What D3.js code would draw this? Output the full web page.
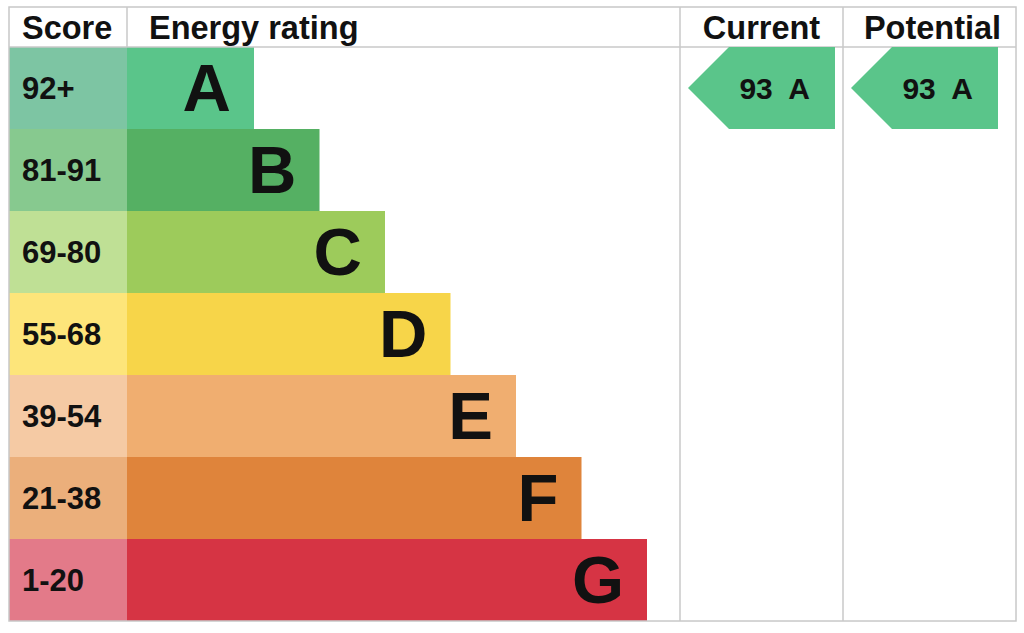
<!DOCTYPE html>
<html>
<head>
<meta charset="utf-8">
<script src="https://cdn.jsdelivr.net/npm/d3@7"></script>
<style>
  body { margin: 0; background: #fff; }
  text { font-family: "Liberation Sans", Arial, sans-serif; font-weight: bold; fill: #111; }
</style>
</head>
<body>
<script>
// band data
var bands = ["A", "B", "C", "D", "E", "F", "G"];
var ranges = ["92+", "81-91", "69-80", "55-68", "39-54", "21-38", "1-20"];
var barColors = ["#5ac58a", "#55b063", "#9dcb5b", "#f7d549", "#f0ae70", "#df843b", "#d63444"];
var cellColors = ["#7dc5a3", "#87c98f", "#bfe095", "#fde57a", "#f5caa4", "#ebaf7b", "#e37a89"];
var headers = ["Score", "Energy rating", "Current", "Potential"];
var ratings = [
    { col: "Current", score: 93, band: "A" },
    { col: "Potential", score: 93, band: "A" }
];

var width = 1024, height = 633;
var svg = d3.select("body").append("svg").attr("width", width).attr("height", height);

var gTop = 7, headBottom = 47, gBottom = 621, gLeft = 9, gRight = 1016;
var scoreEnd = 127, ratingEnd = 680, currentEnd = 843;
var arrowW = 147;

// rows
var y = d3.scaleBand().domain(bands).range([headBottom, gBottom]);
// bar end by band rank
var xEnd = d3.scaleLinear().domain([0, 6]).range([254, 647]);
var colX = { "Current": [ratingEnd, currentEnd], "Potential": [currentEnd, gRight] };

var rows = svg.selectAll("g.row").data(bands).enter().append("g").attr("class", "row");

rows.append("rect")
    .attr("x", gLeft).attr("y", function(d) { return y(d); })
    .attr("width", scoreEnd - gLeft).attr("height", y.bandwidth())
    .attr("fill", function(d, i) { return cellColors[i]; });

rows.append("rect")
    .attr("x", scoreEnd).attr("y", function(d) { return y(d); })
    .attr("width", function(d, i) { return xEnd(i) - scoreEnd; }).attr("height", y.bandwidth())
    .attr("fill", function(d, i) { return barColors[i]; });

rows.append("text")
    .attr("x", 22).attr("y", function(d) { return y(d) + y.bandwidth() / 2; })
    .attr("dy", "0.34em").attr("font-size", 31)
    .text(function(d, i) { return ranges[i]; });

rows.append("text")
    .attr("x", function(d, i) { return xEnd(i) - 23; })
    .attr("y", function(d) { return y(d) + y.bandwidth() / 2; })
    .attr("dy", "0.35em").attr("font-size", 67).attr("text-anchor", "end")
    .text(function(d) { return d; });

// grid lines
var grid = svg.append("g").attr("stroke", "#c8c8c8").attr("stroke-width", 1.5).attr("fill", "none");
grid.append("rect").attr("x", gLeft).attr("y", gTop).attr("width", gRight - gLeft).attr("height", gBottom - gTop);
grid.append("line").attr("x1", gLeft).attr("x2", gRight).attr("y1", headBottom).attr("y2", headBottom);
grid.append("line").attr("x1", scoreEnd).attr("x2", scoreEnd).attr("y1", gTop).attr("y2", headBottom);
[ratingEnd, currentEnd].forEach(function(cx) {
    grid.append("line").attr("x1", cx).attr("x2", cx).attr("y1", gTop).attr("y2", gBottom);
});

// headers
var headX = [22, 149, (ratingEnd + currentEnd) / 2, (currentEnd + gRight) / 2 + 3];
svg.selectAll("text.head").data(headers).enter().append("text")
    .attr("class", "head")
    .attr("x", function(d, i) { return headX[i]; })
    .attr("y", 39).attr("font-size", 32.5)
    .attr("text-anchor", function(d, i) { return i < 2 ? "start" : "middle"; })
    .text(function(d) { return d; });

// rating arrows
var arrows = svg.selectAll("g.arrow").data(ratings).enter().append("g").attr("class", "arrow");
arrows.append("path")
    .attr("fill", function(d) { return barColors[bands.indexOf(d.band)]; })
    .attr("d", function(d) {
        var x0 = colX[d.col][0] + 8, x1 = x0 + arrowW;
        var y0 = y(d.band), h = y.bandwidth();
        return "M" + x0 + "," + (y0 + h / 2) + "L" + (x0 + h / 2) + "," + y0 + "H" + x1 +
            "V" + (y0 + h) + "H" + (x0 + h / 2) + "Z";
    });
arrows.append("text")
    .attr("x", function(d) { return colX[d.col][0] + 8 + arrowW - 25; })
    .attr("y", function(d) { return y(d.band) + y.bandwidth() / 2; })
    .attr("dy", "0.35em").attr("font-size", 30).attr("text-anchor", "end")
    .style("white-space", "pre")
    .text(function(d) { return d.score + "  " + d.band; });
</script>
</body>
</html>
